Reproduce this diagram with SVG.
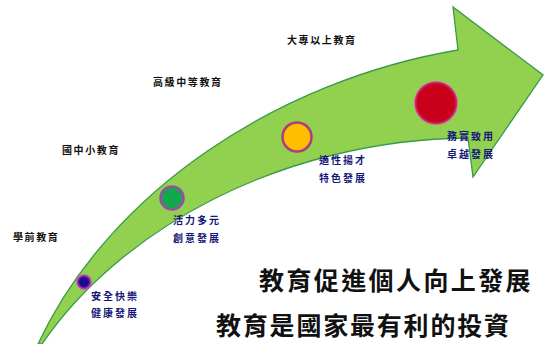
<svg xmlns="http://www.w3.org/2000/svg" width="544" height="344" viewBox="0 0 544 344">
<style>
.lvl{font-family:"Noto Sans CJK TC","Noto Sans CJK SC",sans-serif;font-size:10px;font-weight:bold;fill:#111;letter-spacing:1.6px}
.lbl{font-family:"Noto Sans CJK TC","Noto Sans CJK SC",sans-serif;font-size:10px;font-weight:bold;fill:#16167a;letter-spacing:2px}
.big{font-family:"Noto Sans CJK TC","Noto Sans CJK SC",sans-serif;font-size:25px;font-weight:bold;fill:#111}
</style>
<defs>
<radialGradient id="gBlue"><stop offset="0.55" stop-color="#1a0a8c"/><stop offset="0.8" stop-color="#b030b8"/><stop offset="1" stop-color="#d050c8" stop-opacity="0.6"/></radialGradient>
<radialGradient id="gRed"><stop offset="0.85" stop-color="#c8001a"/><stop offset="0.95" stop-color="#d0308a"/><stop offset="1" stop-color="#e060a8" stop-opacity="0.7"/></radialGradient>
</defs>
<rect width="544" height="344" fill="#fff"/>
<g id="arrow">
<path d="M38,344 C110,190 280,80 458,50 L453,7 L543,75 L473,177 L468,138 C280,140 120,230 42,344 Z" fill="#92d050" stroke="#3a9a4a" stroke-width="1.3" stroke-linejoin="miter"/>
</g>
<g id="connectors"></g>
<g id="node-preschool">
<circle cx="84" cy="282" r="8" fill="url(#gBlue)"/>
<text class="lvl" x="13" y="241">學前教育</text>
<text class="lbl" x="91" y="300">安全快樂</text>
<text class="lbl" x="91" y="317">健康發展</text>
</g>
<g id="node-primary">
<circle cx="172" cy="198" r="11.5" fill="#12a84e" stroke="#9b4ea8" stroke-width="2.5"/>
<text class="lvl" x="62" y="154">國中小教育</text>
<text class="lbl" x="173" y="224">活力多元</text>
<text class="lbl" x="173" y="242">創意發展</text>
</g>
<g id="node-senior">
<circle cx="297" cy="137" r="14.5" fill="#ffbf00" stroke="#b03c78" stroke-width="2.5"/>
<text class="lvl" x="153" y="86">高級中等教育</text>
<text class="lbl" x="319" y="164">適性揚才</text>
<text class="lbl" x="319" y="182">特色發展</text>
</g>
<g id="node-university">
<circle cx="436" cy="103" r="22" fill="url(#gRed)"/>
<text class="lvl" x="287" y="44">大專以上教育</text>
<text class="lbl" x="447" y="140">務實致用</text>
<text class="lbl" x="447" y="158">卓越發展</text>
</g>
<g id="titles">
<text class="big" x="259" y="290" letter-spacing="2.4">教育促進個人向上發展</text>
<text class="big" x="216" y="335" letter-spacing="1.8">教育是國家最有利的投資</text>
</g>
</svg>
